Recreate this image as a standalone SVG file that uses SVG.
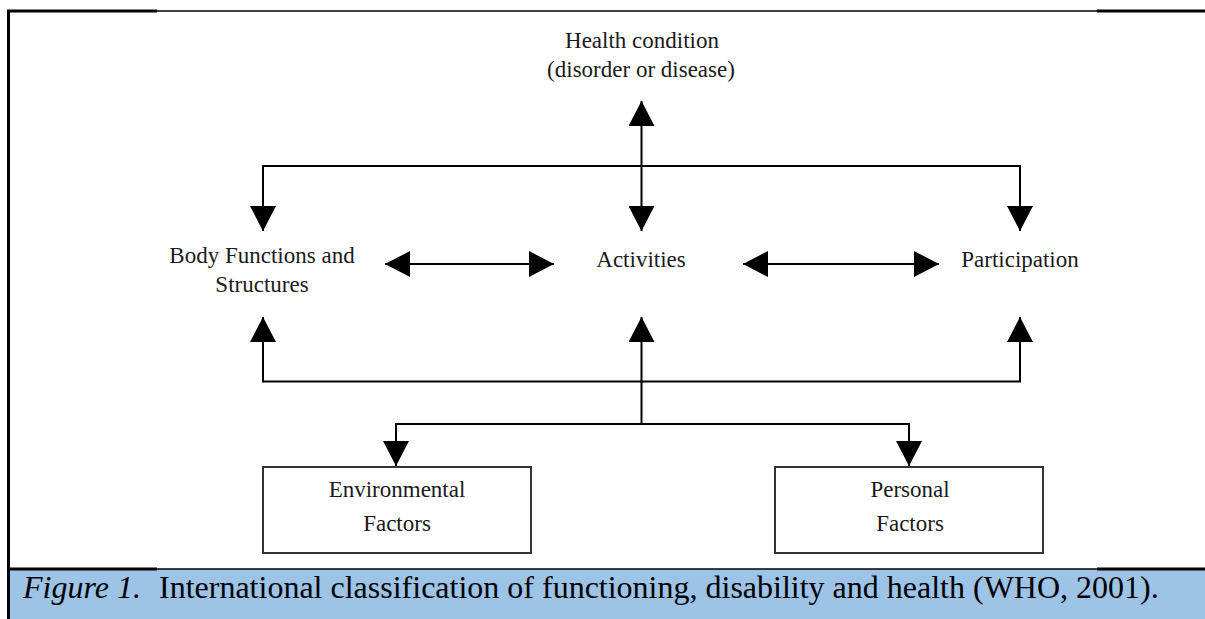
<svg xmlns="http://www.w3.org/2000/svg" width="1205" height="619" viewBox="0 0 1205 619">
  <style>
    .lbl { font-family: "Liberation Serif", "Times New Roman", serif; font-size: 23px; fill: #1a1a1a; text-anchor: middle; }
    .cap { font-family: "Liberation Serif", "Times New Roman", serif; font-size: 32px; fill: #000; }
    .conn { fill: none; stroke: #000; stroke-width: 2; }
    .box { fill: #fff; stroke: #333; stroke-width: 2; }
    .rule { stroke: #000; stroke-width: 1.5; }
    .thick { stroke: #000; stroke-width: 3; }
  </style>
  <defs>
    <marker id="ah" viewBox="0 0 25 26" refX="25" refY="13" markerWidth="25" markerHeight="26" markerUnits="userSpaceOnUse" orient="auto-start-reverse">
      <path d="M0,0 L25,13 L0,26 Z" fill="#000"/>
    </marker>
  </defs>

  <rect width="1205" height="619" fill="#fff"/>

  <g id="frame">
    <rect x="10" y="569" width="1195" height="50" fill="#9DC3E6"/>
    <line class="rule" x1="8" y1="11" x2="1205" y2="11"/>
    <line class="thick" x1="7" y1="11" x2="157" y2="11"/>
    <line class="thick" x1="1097" y1="11" x2="1205" y2="11"/>
    <line class="rule" x1="8" y1="569" x2="1205" y2="569"/>
    <line class="thick" x1="7" y1="569" x2="157" y2="569"/>
    <line class="thick" x1="1097" y1="569" x2="1205" y2="569"/>
    <line class="thick" x1="8.5" y1="10" x2="8.5" y2="619"/>
  </g>

  <g id="connectors">
    <line class="conn" x1="641.5" y1="101" x2="641.5" y2="231" marker-start="url(#ah)" marker-end="url(#ah)"/>
    <path class="conn" d="M263,231 V166 H1020 V231" marker-start="url(#ah)" marker-end="url(#ah)"/>
    <line class="conn" x1="385" y1="264" x2="554" y2="264" marker-start="url(#ah)" marker-end="url(#ah)"/>
    <line class="conn" x1="743" y1="264" x2="939" y2="264" marker-start="url(#ah)" marker-end="url(#ah)"/>
    <path class="conn" d="M263,317 V381.5 H1020 V317" marker-start="url(#ah)" marker-end="url(#ah)"/>
    <line class="conn" x1="641.5" y1="317" x2="641.5" y2="424" marker-start="url(#ah)"/>
    <path class="conn" d="M396,466 V424 H909 V466" marker-start="url(#ah)" marker-end="url(#ah)"/>
  </g>

  <g id="health">
    <text class="lbl" x="642" y="48">Health condition</text>
    <text class="lbl" x="641" y="77">(disorder or disease)</text>
  </g>
  <g id="body">
    <text class="lbl" x="262" y="263">Body Functions and</text>
    <text class="lbl" x="262" y="292">Structures</text>
  </g>
  <g id="activities">
    <text class="lbl" x="641" y="267">Activities</text>
  </g>
  <g id="participation">
    <text class="lbl" x="1020" y="267">Participation</text>
  </g>
  <g id="environmental">
    <rect class="box" x="263" y="467" width="268" height="86"/>
    <text class="lbl" x="397" y="497">Environmental</text>
    <text class="lbl" x="397" y="531">Factors</text>
  </g>
  <g id="personal">
    <rect class="box" x="775" y="467" width="268" height="86"/>
    <text class="lbl" x="910" y="497">Personal</text>
    <text class="lbl" x="910" y="531">Factors</text>
  </g>

  <g id="caption">
    <text class="cap" x="23" y="598"><tspan font-style="italic">Figure 1.</tspan><tspan x="159">International classification of functioning, disability and health (WHO, 2001).</tspan></text>
  </g>
</svg>
